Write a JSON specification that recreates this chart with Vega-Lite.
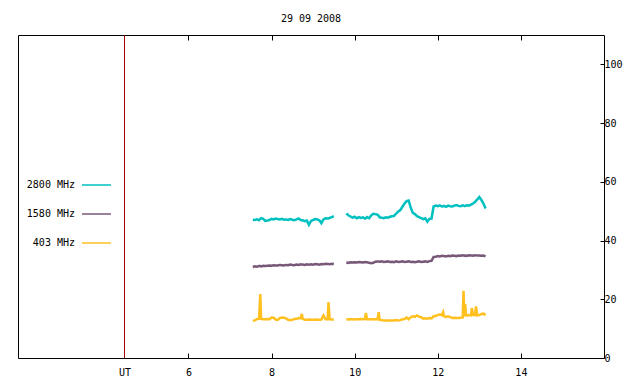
{
  "$schema": "https://vega.github.io/schema/vega-lite/v6.json",
  "width": 586,
  "height": 323,
  "autosize": {"type": "none"},
  "padding": {"left": 18, "top": 35, "right": 36, "bottom": 26},
  "background": "white",
  "title": {"text": "29 09 2008", "font": "DejaVu Sans Mono", "fontSize": 10, "fontWeight": "normal", "color": "black", "anchor": "middle", "offset": 11},
  "config": {
    "view": {"stroke": "black", "strokeWidth": 1},
    "axis": {"labelFont": "DejaVu Sans Mono", "labelFontSize": 10, "labelColor": "black", "domain": false, "grid": false, "tickColor": "black", "title": null}
  },
  "layer": [
    {
      "data": {"values": [{"t": 4.463}]},
      "mark": {"type": "rule", "color": "#a00000", "strokeWidth": 1},
      "encoding": {
        "x": {"field": "t", "type": "quantitative", "scale": {"domain": [1.9, 16], "nice": false, "zero": false},
          "axis": {"orient": "top", "values": [6, 8, 10, 12, 14], "labels": false, "tickSize": -5}}
      }
    },
    {
      "data": {"values": [
        {"t":7.55,"s":1,"a":47.1,"b":31.0,"c":12.7},
        {"t":7.60,"s":1,"a":47.0,"b":31.2,"c":12.8},
        {"t":7.65,"s":1,"a":47.2,"b":31.1,"c":13.3},
        {"t":7.70,"s":1,"a":46.9,"b":31.3,"c":13.4},
        {"t":7.73,"s":1,"a":47.4,"b":31.3,"c":21.8},
        {"t":7.75,"s":1,"a":47.6,"b":31.2,"c":13.3},
        {"t":7.80,"s":1,"a":47.4,"b":31.4,"c":13.2},
        {"t":7.85,"s":1,"a":46.7,"b":31.3,"c":13.2},
        {"t":7.90,"s":1,"a":46.8,"b":31.4,"c":13.3},
        {"t":7.95,"s":1,"a":47.0,"b":31.5,"c":13.2},
        {"t":8.00,"s":1,"a":47.4,"b":31.4,"c":13.8},
        {"t":8.05,"s":1,"a":47.2,"b":31.6,"c":13.7},
        {"t":8.10,"s":1,"a":47.5,"b":31.5,"c":13.1},
        {"t":8.15,"s":1,"a":47.3,"b":31.5,"c":13.0},
        {"t":8.20,"s":1,"a":47.2,"b":31.7,"c":13.6},
        {"t":8.25,"s":1,"a":47.4,"b":31.6,"c":13.8},
        {"t":8.30,"s":1,"a":47.1,"b":31.5,"c":13.7},
        {"t":8.35,"s":1,"a":47.2,"b":31.7,"c":13.5},
        {"t":8.40,"s":1,"a":47.0,"b":31.6,"c":13.0},
        {"t":8.45,"s":1,"a":47.3,"b":31.8,"c":12.9},
        {"t":8.50,"s":1,"a":47.1,"b":31.7,"c":13.0},
        {"t":8.55,"s":1,"a":46.9,"b":31.6,"c":13.3},
        {"t":8.60,"s":1,"a":47.2,"b":31.8,"c":13.4},
        {"t":8.65,"s":1,"a":47.5,"b":31.7,"c":13.5},
        {"t":8.70,"s":1,"a":47.0,"b":31.9,"c":13.6},
        {"t":8.73,"s":1,"a":46.9,"b":31.8,"c":15.0},
        {"t":8.75,"s":1,"a":46.9,"b":31.8,"c":13.4},
        {"t":8.80,"s":1,"a":46.6,"b":31.7,"c":13.0},
        {"t":8.85,"s":1,"a":46.8,"b":31.9,"c":13.0},
        {"t":8.90,"s":1,"a":45.4,"b":31.8,"c":13.1},
        {"t":8.95,"s":1,"a":46.7,"b":31.9,"c":13.0},
        {"t":9.00,"s":1,"a":47.0,"b":31.8,"c":13.0},
        {"t":9.05,"s":1,"a":47.3,"b":32.0,"c":13.1},
        {"t":9.10,"s":1,"a":47.2,"b":31.9,"c":13.0},
        {"t":9.15,"s":1,"a":46.9,"b":31.8,"c":13.0},
        {"t":9.20,"s":1,"a":45.9,"b":32.0,"c":13.1},
        {"t":9.25,"s":1,"a":47.2,"b":31.9,"c":14.5},
        {"t":9.30,"s":1,"a":47.6,"b":32.1,"c":13.2},
        {"t":9.35,"s":1,"a":47.5,"b":32.0,"c":13.2},
        {"t":9.37,"s":1,"a":47.5,"b":32.0,"c":19.0},
        {"t":9.40,"s":1,"a":47.7,"b":31.9,"c":13.2},
        {"t":9.45,"s":1,"a":48.0,"b":32.1,"c":13.1},
        {"t":9.50,"s":1,"a":48.3,"b":32.0,"c":13.1},
        {"t":9.80,"s":2,"a":49.2,"b":32.5,"c":13.2},
        {"t":9.85,"s":2,"a":48.6,"b":32.4,"c":13.1},
        {"t":9.90,"s":2,"a":48.2,"b":32.6,"c":13.2},
        {"t":9.95,"s":2,"a":47.8,"b":32.5,"c":13.2},
        {"t":10.00,"s":2,"a":48.1,"b":32.6,"c":13.1},
        {"t":10.05,"s":2,"a":47.6,"b":32.5,"c":13.2},
        {"t":10.10,"s":2,"a":48.0,"b":32.7,"c":13.2},
        {"t":10.15,"s":2,"a":47.7,"b":32.6,"c":13.3},
        {"t":10.20,"s":2,"a":47.9,"b":32.5,"c":13.2},
        {"t":10.25,"s":2,"a":47.5,"b":32.7,"c":13.3},
        {"t":10.27,"s":2,"a":47.6,"b":32.6,"c":15.3},
        {"t":10.30,"s":2,"a":48.0,"b":32.6,"c":13.2},
        {"t":10.35,"s":2,"a":47.6,"b":32.4,"c":13.2},
        {"t":10.40,"s":2,"a":48.6,"b":32.3,"c":13.2},
        {"t":10.45,"s":2,"a":49.1,"b":32.4,"c":13.1},
        {"t":10.50,"s":2,"a":49.0,"b":32.8,"c":13.2},
        {"t":10.55,"s":2,"a":48.8,"b":32.9,"c":13.2},
        {"t":10.58,"s":2,"a":48.4,"b":32.85,"c":15.6},
        {"t":10.60,"s":2,"a":47.9,"b":32.8,"c":13.0},
        {"t":10.65,"s":2,"a":47.8,"b":32.9,"c":12.9},
        {"t":10.70,"s":2,"a":47.6,"b":32.7,"c":12.8},
        {"t":10.75,"s":2,"a":47.9,"b":32.8,"c":12.8},
        {"t":10.80,"s":2,"a":47.8,"b":32.9,"c":12.8},
        {"t":10.85,"s":2,"a":48.1,"b":32.7,"c":12.8},
        {"t":10.90,"s":2,"a":48.3,"b":32.8,"c":12.8},
        {"t":10.95,"s":2,"a":48.4,"b":32.6,"c":12.8},
        {"t":11.00,"s":2,"a":49.2,"b":32.9,"c":12.9},
        {"t":11.05,"s":2,"a":49.9,"b":32.7,"c":12.8},
        {"t":11.10,"s":2,"a":50.4,"b":32.8,"c":12.9},
        {"t":11.15,"s":2,"a":51.5,"b":32.9,"c":13.2},
        {"t":11.20,"s":2,"a":52.6,"b":32.7,"c":13.3},
        {"t":11.25,"s":2,"a":53.4,"b":32.8,"c":13.8},
        {"t":11.30,"s":2,"a":53.6,"b":32.9,"c":13.2},
        {"t":11.35,"s":2,"a":51.2,"b":32.7,"c":13.9},
        {"t":11.40,"s":2,"a":49.4,"b":32.8,"c":14.2},
        {"t":11.45,"s":2,"a":49.0,"b":32.6,"c":14.0},
        {"t":11.50,"s":2,"a":48.3,"b":32.8,"c":14.5},
        {"t":11.55,"s":2,"a":48.0,"b":32.9,"c":14.1},
        {"t":11.60,"s":2,"a":47.6,"b":32.7,"c":13.9},
        {"t":11.65,"s":2,"a":47.3,"b":32.8,"c":13.4},
        {"t":11.70,"s":2,"a":47.6,"b":32.9,"c":13.5},
        {"t":11.75,"s":2,"a":46.4,"b":32.7,"c":13.4},
        {"t":11.80,"s":2,"a":47.4,"b":33.0,"c":13.6},
        {"t":11.85,"s":2,"a":47.5,"b":33.1,"c":13.5},
        {"t":11.90,"s":2,"a":51.6,"b":34.4,"c":14.2},
        {"t":11.95,"s":2,"a":51.9,"b":34.5,"c":14.3},
        {"t":12.00,"s":2,"a":51.7,"b":34.7,"c":14.7},
        {"t":12.05,"s":2,"a":52.0,"b":34.6,"c":14.8},
        {"t":12.10,"s":2,"a":51.6,"b":34.8,"c":14.6},
        {"t":12.13,"s":2,"a":51.7,"b":34.75,"c":15.6},
        {"t":12.15,"s":2,"a":51.8,"b":34.7,"c":14.2},
        {"t":12.20,"s":2,"a":51.5,"b":34.6,"c":14.0},
        {"t":12.25,"s":2,"a":51.9,"b":34.8,"c":14.2},
        {"t":12.30,"s":2,"a":51.7,"b":34.7,"c":13.9},
        {"t":12.35,"s":2,"a":51.6,"b":34.9,"c":13.6},
        {"t":12.40,"s":2,"a":51.9,"b":34.8,"c":13.7},
        {"t":12.45,"s":2,"a":52.1,"b":34.7,"c":13.6},
        {"t":12.50,"s":2,"a":51.8,"b":34.9,"c":13.6},
        {"t":12.55,"s":2,"a":51.7,"b":34.8,"c":13.7},
        {"t":12.60,"s":2,"a":52.0,"b":35.0,"c":13.8},
        {"t":12.62,"s":2,"a":51.9,"b":34.9,"c":22.9},
        {"t":12.64,"s":2,"a":51.8,"b":34.9,"c":14.2},
        {"t":12.66,"s":2,"a":51.8,"b":34.8,"c":18.4},
        {"t":12.68,"s":2,"a":51.9,"b":34.9,"c":14.5},
        {"t":12.70,"s":2,"a":52.0,"b":34.8,"c":14.5},
        {"t":12.75,"s":2,"a":51.9,"b":35.0,"c":14.6},
        {"t":12.80,"s":2,"a":52.2,"b":34.9,"c":14.5},
        {"t":12.82,"s":2,"a":52.4,"b":34.9,"c":17.0},
        {"t":12.85,"s":2,"a":52.6,"b":34.8,"c":14.7},
        {"t":12.90,"s":2,"a":53.2,"b":35.0,"c":14.6},
        {"t":12.92,"s":2,"a":53.5,"b":34.95,"c":17.6},
        {"t":12.95,"s":2,"a":54.0,"b":34.9,"c":14.5},
        {"t":13.00,"s":2,"a":54.8,"b":34.9,"c":14.6},
        {"t":13.05,"s":2,"a":53.8,"b":34.8,"c":15.0},
        {"t":13.10,"s":2,"a":52.6,"b":34.9,"c":15.1},
        {"t":13.15,"s":2,"a":50.9,"b":34.6,"c":14.6}
      ]},
      "transform": [{"fold": ["a", "b", "c"], "as": ["k", "v"]}],
      "mark": {"type": "line", "interpolate": "linear", "strokeWidth": 2.5},
      "encoding": {
        "x": {"field": "t", "type": "quantitative", "scale": {"domain": [1.9, 16], "nice": false, "zero": false},
          "axis": {"orient": "bottom", "values": [4.463, 6, 8, 10, 12, 14], "tickSize": -5, "labelPadding": 14,
            "labelExpr": "datum.value < 5 ? 'UT' : datum.label",
            "tickColor": {"condition": {"test": "datum.value < 5", "value": "transparent"}, "value": "black"}}},
        "y": {"field": "v", "type": "quantitative", "scale": {"domain": [0, 110], "nice": false, "zero": true},
          "axis": {"orient": "right", "values": [0, 20, 40, 60, 80, 100], "tickSize": -4, "labelPadding": 4, "labelAlign": "left"}},
        "color": {"field": "k", "type": "nominal",
          "scale": {"domain": ["a", "b", "c"], "range": ["#00c0c0", "#785878", "#ffc020"]},
          "legend": {"orient": "none", "legendX": 63, "legendY": 134.5, "direction": "vertical", "title": null,
            "symbolType": "stroke", "symbolSize": 841, "symbolStrokeWidth": 1.5, "rowPadding": 8, "padding": 0,
            "labelAlign": "right", "labelOffset": -37, "labelFont": "DejaVu Sans Mono", "labelFontSize": 10, "labelColor": "black",
            "labelExpr": "datum.label == 'a' ? '2800 MHz' : datum.label == 'b' ? '1580 MHz' : '403 MHz'",
            "encode": {"symbols": {"update": {"strokeWidth": {"value": 1.5}}}}}},
        "detail": {"field": "s", "type": "nominal"}
      }
    }
  ]
}
